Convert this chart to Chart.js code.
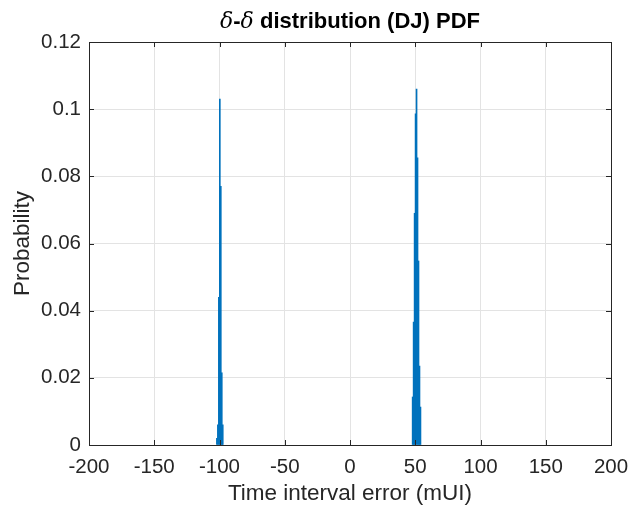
<!DOCTYPE html>
<html>
<head>
<meta charset="utf-8">
<script src="https://cdn.jsdelivr.net/npm/chart.js@4"></script>
<style>
  html, body { margin: 0; padding: 0; background: #fff; }
</style>
</head>
<body>
<canvas id="pdf" width="631" height="510"></canvas>
<script>
// histogram bins (mUI) around the two deltas, 0.75 mUI wide
const binsLeft = [-102, -101.25, -100.5, -99.75, -99, -98.25, -97.5];
const probLeft = [0.002, 0.006, 0.044, 0.103, 0.077, 0.0215, 0.006];
const binsRight = [48, 48.75, 49.5, 50.25, 51, 51.75, 52.5, 53.25, 54];
const probRight = [0.0143, 0.0366, 0.069, 0.0986, 0.106, 0.0855, 0.0548, 0.0235, 0.0113];

const xTicks = [-200, -150, -100, -50, 0, 50, 100, 150, 200];
const yTicks = [0, 0.02, 0.04, 0.06, 0.08, 0.1, 0.12];

const axisColor = '#262626';
const gridColor = '#e3e3e3';
const barColor = '#0072BD';
const font = '"Liberation Sans", Arial, Helvetica, sans-serif';

const points = binsLeft.map((b, i) => ({ x: b, y: probLeft[i] }))
  .concat(binsRight.map((b, i) => ({ x: b, y: probRight[i] })));

// white background, box around the axes and inward tick marks
const frame = {
  id: 'frame',
  beforeDraw(chart) {
    const c = chart.ctx;
    c.save();
    c.fillStyle = '#fff';
    c.fillRect(0, 0, chart.width, chart.height);
    c.restore();
  },
  afterDraw(chart) {
    const c = chart.ctx;
    const a = chart.chartArea;
    const xs = chart.scales.x, ys = chart.scales.y;
    const len = 5;
    c.save();
    c.strokeStyle = axisColor;
    c.lineWidth = 1;
    c.beginPath();
    xTicks.forEach(v => {
      const px = Math.round(xs.getPixelForValue(v)) + 0.5;
      c.moveTo(px, a.bottom); c.lineTo(px, a.bottom - len);
      c.moveTo(px, a.top); c.lineTo(px, a.top + len);
    });
    yTicks.forEach(v => {
      const py = Math.round(ys.getPixelForValue(v)) + 0.5;
      c.moveTo(a.left, py); c.lineTo(a.left + len, py);
      c.moveTo(a.right, py); c.lineTo(a.right - len, py);
    });
    c.stroke();
    c.strokeRect(Math.round(a.left) + 0.5, Math.round(a.top) + 0.5,
      Math.round(a.right - a.left), Math.round(a.bottom - a.top));

    // title with italic deltas
    const parts = [
      { t: 'δ', f: 'italic 22px "DejaVu Serif", serif' },
      { t: '-', f: 'bold 22px ' + font },
      { t: 'δ', f: 'italic 22px "DejaVu Serif", serif' },
      { t: ' distribution (DJ) PDF', f: 'bold 22px ' + font }
    ];
    let total = 0;
    parts.forEach(p => { c.font = p.f; p.w = c.measureText(p.t).width; total += p.w; });
    let x = (a.left + a.right) / 2 - total / 2;
    c.fillStyle = '#000';
    c.textBaseline = 'alphabetic';
    parts.forEach(p => { c.font = p.f; c.fillText(p.t, x, 28); x += p.w; });
    c.restore();
  }
};

new Chart(document.getElementById('pdf'), {
  type: 'bar',
  data: {
    datasets: [{
      data: points,
      backgroundColor: barColor,
      borderWidth: 0,
      barPercentage: 1,
      categoryPercentage: 1
    }]
  },
  options: {
    responsive: false,
    animation: false,
    layout: { padding: { left: 0, right: 20, top: 42, bottom: 0 } },
    plugins: { legend: { display: false }, tooltip: { enabled: false } },
    scales: {
      x: {
        type: 'linear',
        min: -200,
        max: 200,
        offset: false,
        afterBuildTicks: s => { s.ticks = xTicks.map(v => ({ value: v })); },
        afterFit: s => { s.height = 65; s.paddingLeft = 0; s.paddingRight = 0; },
        grid: { color: gridColor, drawTicks: false, offset: false },
        border: { display: false },
        ticks: { color: axisColor, padding: 10, maxRotation: 0, font: { family: font, size: 20.5 } },
        title: { display: true, text: 'Time interval error (mUI)', color: axisColor,
          padding: { top: 4, bottom: 3 }, font: { family: font, size: 22.5 } }
      },
      y: {
        min: 0,
        max: 0.12,
        afterBuildTicks: s => { s.ticks = yTicks.map(v => ({ value: v })); },
        afterFit: s => { s.width = 89; s.paddingTop = 0; s.paddingBottom = 0; },
        grid: { color: gridColor, drawTicks: false },
        border: { display: false },
        ticks: { color: axisColor, padding: 8, font: { family: font, size: 20.5 },
          callback: v => String(Number(v.toFixed(2))) },
        title: { display: true, text: 'Probability', color: axisColor,
          padding: { top: 9, bottom: 0 }, font: { family: font, size: 22.5 } }
      }
    }
  },
  plugins: [frame]
});
</script>
</body>
</html>
